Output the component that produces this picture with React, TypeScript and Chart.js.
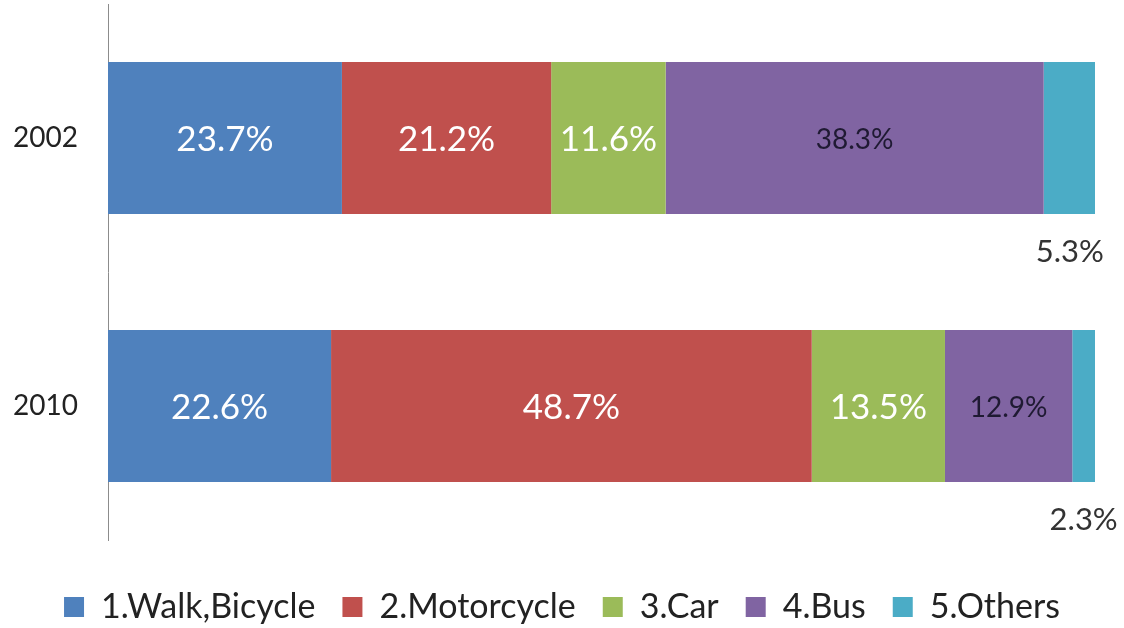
import { useEffect, useRef } from 'react';
import { Chart, registerables } from 'chart.js';

Chart.register(...registerables);

const years = ['2002', '2010'];
const seriesNames = ['1.Walk,Bicycle', '2.Motorcycle', '3.Car', '4.Bus', '5.Others'];
const walkBicycle = [23.7, 22.6];
const motorcycle = [21.2, 48.7];
const car = [11.6, 13.5];
const bus = [38.3, 12.9];
const others = [5.3, 2.3];
const seriesColors = ['#4F81BD', '#C0504D', '#9BBB59', '#8064A2', '#4BACC6'];

const FONT = 'Lato, "Noto Sans", sans-serif';

const labelPlugin = {
  id: 'segmentLabels',
  afterDatasetsDraw(chart: any) {
    const ctx = chart.ctx;
    ctx.save();
    ctx.textAlign = 'center';
    ctx.textBaseline = 'middle';
    chart.data.datasets.forEach((ds: any, i: number) => {
      const meta = chart.getDatasetMeta(i);
      meta.data.forEach((bar: any, j: number) => {
        const v = ds.data[j];
        const p = bar.getProps(['x', 'y', 'base', 'height'], true);
        const cx = (p.x + p.base) / 2;
        const txt = v.toFixed(1) + '%';
        if (i < 3) {
          ctx.fillStyle = '#ffffff';
          ctx.font = `35px ${FONT}`;
          ctx.fillText(txt, cx, p.y + 2);
        } else if (i === 3) {
          ctx.fillStyle = '#1f1a33';
          ctx.font = `28px ${FONT}`;
          ctx.fillText(txt, cx, p.y + 2);
        } else {
          ctx.fillStyle = '#333333';
          ctx.font = `31px ${FONT}`;
          ctx.fillText(txt, cx, p.y + p.height / 2 + 38);
        }
      });
    });
    ctx.restore();
  },
};

export default function App() {
  const ref = useRef<HTMLCanvasElement | null>(null);
  useEffect(() => {
    if (!ref.current) return;
    const seriesData = [walkBicycle, motorcycle, car, bus, others];
    const chart = new Chart(ref.current, {
      type: 'bar',
      data: {
        labels: years,
        datasets: seriesNames.map((name, i) => ({
          label: name,
          data: seriesData[i],
          backgroundColor: seriesColors[i],
          borderWidth: 0,
          categoryPercentage: 1,
          barPercentage: 0.567,
        })),
      },
      options: {
        indexAxis: 'y',
        animation: false,
        responsive: true,
        maintainAspectRatio: false,
        layout: { padding: { left: 0, right: 0, top: 4, bottom: -6 } },
        scales: {
          x: {
            stacked: true,
            min: 0,
            max: 100,
            ticks: { display: false },
            grid: { display: false },
            border: { display: false },
            afterFit: (scale: any) => {
              scale.height = 23;
            },
          },
          y: {
            stacked: true,
            grid: { display: true, drawOnChartArea: false, drawTicks: false, color: 'rgba(0,0,0,0)' },
            border: { display: true, color: '#8c8c8c', width: 1 },
            ticks: { color: '#222222', font: { family: FONT, size: 28 }, padding: 30 },
            afterFit: (scale: any) => {
              scale.width = 108;
              scale.paddingTop = 0;
              scale.paddingBottom = 0;
            },
          },
          yRight: {
            type: 'linear',
            axis: 'y',
            position: 'right',
            display: true,
            ticks: { display: false },
            grid: { display: false },
            border: { display: false },
            afterFit: (scale: any) => {
              scale.width = 29;
              scale.paddingTop = 0;
              scale.paddingBottom = 0;
            },
          },
        },
        plugins: {
          legend: {
            position: 'bottom',
            labels: {
              color: '#222222',
              font: { family: FONT, size: 34 },
              boxWidth: 20,
              boxHeight: 20,
              padding: 27,
            },
          },
          tooltip: { enabled: false },
        },
      },
      plugins: [labelPlugin],
    });
    return () => chart.destroy();
  }, []);
  return (
    <div style={{ position: 'absolute', left: 0, top: 0, width: 1124, height: 628, background: '#ffffff' }}>
      <canvas ref={ref} />
    </div>
  );
}
